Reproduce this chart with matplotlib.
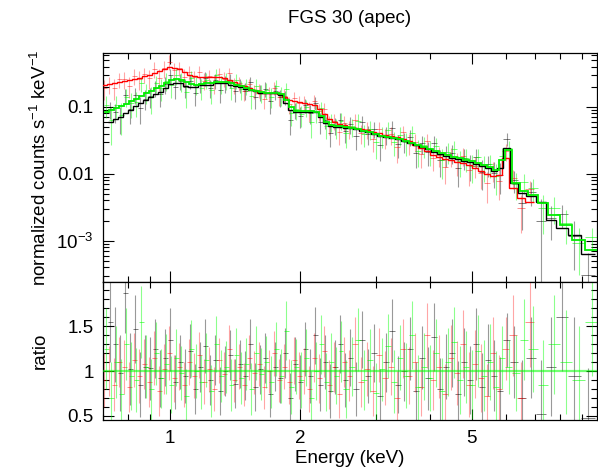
import matplotlib
matplotlib.use("Agg")
import matplotlib.pyplot as plt
from matplotlib.ticker import FixedLocator, FixedFormatter, NullFormatter, LogLocator, MultipleLocator
import numpy as np

plt.rcParams["font.family"] = ["Liberation Sans", "DejaVu Sans"]
plt.rcParams["mathtext.fontset"] = "custom"
plt.rcParams["mathtext.rm"] = "Liberation Sans"
plt.rcParams["mathtext.default"] = "regular"

title = "FGS 30 (apec)"

# black set: bin centres (keV), model (counts/s/keV), data/model ratio, ratio error
black_energy = [0.726, 0.746, 0.767, 0.787, 0.809, 0.830, 0.853, 0.876, 0.900, 0.924,
                0.948, 0.974, 1.000, 1.027, 1.055, 1.083, 1.113, 1.143, 1.174, 1.205,
                1.238, 1.271, 1.306, 1.341, 1.377, 1.414, 1.452, 1.492, 1.532, 1.573,
                1.616, 1.660, 1.704, 1.750, 1.798, 1.846, 1.896, 1.947, 2.000, 2.054,
                2.109, 2.166, 2.225, 2.285, 2.346, 2.410, 2.475, 2.542, 2.610,
                2.695, 2.783, 2.873, 2.967, 3.063, 3.163, 3.265, 3.371, 3.481, 3.594,
                3.711, 3.832, 3.956, 4.085, 4.217, 4.354, 4.496, 4.642, 4.793, 4.949,
                5.110, 5.276, 5.447, 5.624, 5.807,
                6.027, 6.256, 6.528, 6.848, 7.224, 7.619, 8.082, 8.614, 9.281]
black_model = [0.0597, 0.0650, 0.0709, 0.080, 0.0902, 0.102, 0.115, 0.127, 0.141, 0.154,
               0.167, 0.19, 0.22, 0.228, 0.224, 0.206, 0.199, 0.199, 0.21, 0.213,
               0.216, 0.224, 0.228, 0.224, 0.213, 0.203, 0.196, 0.185, 0.179, 0.17,
               0.162, 0.162, 0.162, 0.162, 0.151, 0.115, 0.0902, 0.0842, 0.0842, 0.0842,
               0.0842, 0.083, 0.0709, 0.0577, 0.052, 0.0503, 0.0494, 0.0486, 0.0477,
               0.0461, 0.0438, 0.0416, 0.0388, 0.0369, 0.035, 0.0338, 0.0327, 0.0305, 0.0285,
               0.0266, 0.0248, 0.0232, 0.021, 0.0199, 0.0186, 0.0173, 0.0164, 0.0156, 0.0148,
               0.0138, 0.0132, 0.0123, 0.011, 0.0123,
               0.0244, 0.0073, 0.0052, 0.0047, 0.0038, 0.00206, 0.00157, 0.00123, 0.00064]
black_ratio = [1.55, 1.30, 0.98, 1.87, 1.02, 1.47, 0.85, 1.05, 1.03, 1.25,
               0.92, 1.15, 1.35, 0.88, 1.10, 0.95, 1.22, 0.80, 1.05, 1.28,
               0.90, 1.12, 0.78, 1.00, 1.18, 0.86, 1.08, 0.95, 1.30, 0.82,
               1.02, 1.15, 0.75, 1.05, 0.92, 1.20, 0.70, 1.08, 0.88, 1.25,
               0.95, 1.40, 0.85, 1.10, 0.78, 1.05, 1.30, 0.90, 1.15,
               0.80, 1.35, 0.95, 1.20, 0.72, 1.10, 1.45, 0.85, 1.00, 1.25,
               0.78, 1.15, 0.92, 1.38, 0.80, 1.05, 1.20, 0.75, 1.10, 0.90,
               1.30, 0.82, 1.12, 0.95, 0.78,
               1.35, 1.10, 0.70, 1.15, 0.52, 1.05, 1.60, 0.95, 0.48]
black_err = [0.45, 0.42, 0.42, 0.45, 0.40, 0.38, 0.36, 0.35, 0.35, 0.33,
             0.32, 0.32, 0.35, 0.30, 0.30, 0.30, 0.30, 0.28, 0.28, 0.30,
             0.28, 0.28, 0.27, 0.28, 0.28, 0.27, 0.27, 0.27, 0.28, 0.27,
             0.27, 0.28, 0.26, 0.27, 0.27, 0.28, 0.28, 0.30, 0.30, 0.30,
             0.30, 0.32, 0.30, 0.30, 0.30, 0.30, 0.32, 0.30, 0.32,
             0.30, 0.32, 0.30, 0.32, 0.30, 0.33, 0.35, 0.32, 0.33, 0.35,
             0.32, 0.35, 0.35, 0.38, 0.35, 0.36, 0.38, 0.36, 0.38, 0.38,
             0.40, 0.38, 0.40, 0.40, 0.38,
             0.30, 0.40, 0.42, 0.45, 0.60, 0.55, 0.60, 0.65, 0.55]

# red set
red_energy = [0.7035, 0.7225, 0.742, 0.762, 0.783, 0.804, 0.826, 0.848, 0.871, 0.894,
              0.918, 0.943, 0.969, 0.995, 1.022, 1.049, 1.078, 1.107, 1.137, 1.167,
              1.199, 1.231, 1.264, 1.299, 1.334, 1.370, 1.407, 1.445, 1.484, 1.524,
              1.565, 1.607, 1.651, 1.695, 1.741, 1.788, 1.836, 1.886, 1.937, 1.989,
              2.043, 2.098, 2.154, 2.213, 2.272, 2.334, 2.397, 2.461, 2.528, 2.596,
              2.681, 2.768, 2.858, 2.951, 3.047, 3.146, 3.248, 3.354, 3.463, 3.575,
              3.691, 3.811, 3.935, 4.063, 4.195, 4.331, 4.472, 4.617, 4.767, 4.922,
              5.082, 5.247, 5.418, 5.594, 5.776,
              5.995, 6.223, 6.494, 6.813]
red_model = [0.213, 0.22, 0.228, 0.236, 0.245, 0.253, 0.262, 0.271, 0.285, 0.305,
             0.322, 0.345, 0.370, 0.395, 0.383, 0.364, 0.333, 0.305, 0.290, 0.281,
             0.281, 0.281, 0.281, 0.281, 0.271, 0.253, 0.236, 0.216, 0.203, 0.189,
             0.176, 0.164, 0.162, 0.162, 0.16, 0.154, 0.141, 0.125, 0.121, 0.119,
             0.115, 0.111, 0.107, 0.0934, 0.0773, 0.0662, 0.0587, 0.0557, 0.0529, 0.0503,
             0.0486, 0.0469, 0.0454, 0.0424, 0.0402, 0.0382, 0.0369, 0.0357, 0.0333, 0.0305,
             0.0271, 0.0244, 0.022, 0.0192, 0.018, 0.0168, 0.016, 0.0151, 0.0143, 0.0136,
             0.0123, 0.011, 0.010, 0.0093, 0.0097,
             0.0173, 0.0062, 0.0044, 0.0038]
red_ratio = [0.90, 1.00, 0.85, 1.10, 1.05, 0.82, 1.12, 0.95, 1.08, 0.88,
             1.15, 0.78, 1.02, 1.20, 0.92, 1.05, 0.85, 1.10, 0.95, 1.18,
             0.88, 1.02, 0.80, 1.12, 0.97, 1.25, 0.90, 1.05, 0.85, 1.15,
             0.98, 1.08, 0.82, 1.00, 1.20, 0.90, 1.05, 0.88, 1.12, 0.95,
             1.00, 0.80, 1.15, 0.92, 1.22, 0.85, 1.05, 0.75, 1.10, 0.95,
             1.30, 0.88, 1.02, 0.78, 1.18, 0.92, 1.05, 0.70, 1.25, 0.95,
             1.10, 0.82, 1.40, 0.90, 1.05, 0.75, 1.15, 0.98, 1.30, 0.85,
             1.08, 0.92, 0.72, 1.20, 0.80,
             1.25, 1.40, 0.70, 1.55]
red_err = [0.30, 0.28, 0.30, 0.28, 0.30, 0.28, 0.30, 0.30, 0.28, 0.28,
           0.30, 0.28, 0.28, 0.30, 0.26, 0.26, 0.25, 0.26, 0.25, 0.26,
           0.25, 0.25, 0.25, 0.25, 0.24, 0.26, 0.24, 0.25, 0.24, 0.25,
           0.24, 0.25, 0.24, 0.24, 0.25, 0.24, 0.25, 0.25, 0.26, 0.26,
           0.26, 0.26, 0.27, 0.27, 0.28, 0.27, 0.28, 0.27, 0.28, 0.28,
           0.30, 0.28, 0.30, 0.28, 0.30, 0.30, 0.32, 0.30, 0.33, 0.32,
           0.33, 0.32, 0.36, 0.33, 0.35, 0.33, 0.36, 0.36, 0.38, 0.36,
           0.38, 0.38, 0.36, 0.40, 0.38,
           0.35, 0.45, 0.40, 0.50]

# green set
green_energy = [0.711, 0.730, 0.750, 0.770, 0.791, 0.812, 0.834, 0.857, 0.880, 0.904,
                0.928, 0.953, 0.979, 1.005, 1.032, 1.060, 1.089, 1.118, 1.149, 1.180,
                1.211, 1.244, 1.278, 1.312, 1.348, 1.384, 1.421, 1.460, 1.499, 1.540,
                1.581, 1.624, 1.668, 1.713, 1.759, 1.807, 1.855, 1.906, 1.957, 2.010,
                2.064, 2.120, 2.177, 2.236, 2.296, 2.358, 2.422, 2.487, 2.554,
                2.638, 2.723, 2.812, 2.904, 2.998, 3.095, 3.196, 3.300, 3.408, 3.518,
                3.633, 3.751, 3.873, 3.999, 4.129, 4.263, 4.401, 4.544, 4.691, 4.844,
                5.001, 5.164, 5.331, 5.504, 5.683, 5.868,
                6.091, 6.324, 6.600, 6.922, 7.302, 7.743, 8.257, 8.847, 9.482]
green_model = [0.0842, 0.0902, 0.0966, 0.102, 0.109, 0.121, 0.132, 0.146, 0.159, 0.173,
               0.189, 0.206, 0.228, 0.253, 0.257, 0.249, 0.232, 0.22, 0.216, 0.22,
               0.224, 0.228, 0.232, 0.236, 0.236, 0.224, 0.213, 0.203, 0.192, 0.182,
               0.173, 0.167, 0.164, 0.162, 0.162, 0.156, 0.127, 0.1, 0.0871, 0.0857,
               0.0857, 0.0857, 0.0842, 0.0734, 0.0597, 0.0539, 0.052, 0.0511, 0.0503,
               0.0486, 0.0461, 0.0438, 0.0416, 0.0388, 0.0369, 0.0357, 0.0345, 0.0333, 0.0311,
               0.029, 0.0271, 0.0253, 0.0236, 0.0217, 0.0206, 0.0192, 0.018, 0.017, 0.0162,
               0.0154, 0.0146, 0.0136, 0.0127, 0.0115, 0.0162,
               0.0228, 0.0073, 0.0056, 0.0049, 0.0036, 0.0024, 0.0017, 0.00104, 0.00073]
green_ratio = [1.25, 0.70, 1.10, 0.75, 1.30, 0.95, 0.90, 1.55, 1.05, 0.80,
               1.20, 0.92, 1.08, 0.85, 1.15, 0.98, 0.72, 1.25, 1.00, 0.88,
               1.12, 0.78, 1.30, 0.95, 1.05, 0.85, 1.18, 0.92, 1.08, 0.80,
               1.20, 0.97, 1.10, 0.88, 1.25, 0.95, 1.45, 0.82, 1.05, 0.90,
               1.15, 0.70, 1.00, 1.30, 0.88, 1.10, 0.95, 1.22, 0.80,
               1.05, 1.35, 0.90, 1.12, 0.76, 1.02, 1.28, 0.88, 1.15, 0.95,
               1.40, 0.82, 1.05, 0.92, 1.20, 0.78, 1.10, 1.32, 0.90, 1.05,
               0.85, 1.22, 0.95, 1.10, 0.82, 1.15,
               1.05, 0.98, 1.35, 1.25, 0.85, 1.30, 1.10, 0.90, 1.55]
green_err = [0.45, 0.40, 0.40, 0.38, 0.40, 0.38, 0.36, 0.40, 0.35, 0.34,
             0.35, 0.33, 0.33, 0.32, 0.32, 0.30, 0.30, 0.32, 0.30, 0.30,
             0.30, 0.29, 0.31, 0.29, 0.29, 0.29, 0.30, 0.29, 0.29, 0.29,
             0.30, 0.29, 0.29, 0.29, 0.30, 0.30, 0.33, 0.30, 0.31, 0.31,
             0.32, 0.30, 0.32, 0.33, 0.32, 0.33, 0.32, 0.34, 0.32,
             0.33, 0.35, 0.33, 0.35, 0.33, 0.35, 0.36, 0.35, 0.36, 0.36,
             0.38, 0.36, 0.37, 0.37, 0.38, 0.37, 0.38, 0.40, 0.38, 0.40,
             0.38, 0.40, 0.40, 0.42, 0.40, 0.35,
             0.30, 0.42, 0.45, 0.48, 0.50, 0.55, 0.58, 0.60, 0.60]


def bin_edges(centres):
    # edges half way (in log E) between neighbouring bin centres
    lc = np.log10(centres)
    mid = (lc[:-1] + lc[1:]) / 2
    first = lc[0] - (lc[1] - lc[0]) / 2
    last = lc[-1] + (lc[-1] - lc[-2]) / 2
    return 10 ** np.concatenate([[first], mid, [last]])


def draw_data(ax_top, ax_bot, energy, model, ratio, err, color, alpha):
    e = np.array(energy)
    m = np.array(model)
    r = np.array(ratio)
    s = np.array(err)
    edges = bin_edges(e)
    xerr = [e - edges[:-1], edges[1:] - e]

    ax_top.errorbar(e, m * r, yerr=m * s, fmt="none", ecolor=color, alpha=alpha, elinewidth=0.8, zorder=2)
    ax_top.errorbar(e, m * r, xerr=xerr, fmt="none", ecolor=color, alpha=alpha + 0.1, elinewidth=0.7, zorder=2)
    ax_bot.errorbar(e, r, yerr=s, fmt="none", ecolor=color, alpha=alpha, elinewidth=0.8, zorder=2)
    ax_bot.errorbar(e, r, xerr=xerr, fmt="none", ecolor=color, alpha=alpha + 0.1, elinewidth=0.7, zorder=2)
    return edges


def main():
    fig = plt.figure(figsize=(5.98, 4.67), dpi=100)
    ax_top = fig.add_axes([0.1727, 0.3955, 0.8256, 0.4904])
    ax_bot = fig.add_axes([0.1727, 0.1006, 0.8256, 0.2949])

    be = draw_data(ax_top, ax_bot, black_energy, black_model, black_ratio, black_err, "black", 0.4)
    re = draw_data(ax_top, ax_bot, red_energy, red_model, red_ratio, red_err, "#ff0000", 0.35)
    ge = draw_data(ax_top, ax_bot, green_energy, green_model, green_ratio, green_err, "#00ff00", 0.45)

    ax_top.stairs(red_model, re, baseline=None, color="#ff0000", lw=1.0, zorder=4)
    ax_top.stairs(black_model, be, baseline=None, color="black", lw=1.0, zorder=4)
    ax_top.stairs(green_model, ge, baseline=None, color="#00ee00", lw=1.3, zorder=5)
    ax_bot.axhline(1.0, color="#00ff00", alpha=0.55, lw=1.6, zorder=4)

    for ax in (ax_top, ax_bot):
        ax.set_xscale("log")
        ax.set_xlim(0.7, 9.74)
        ax.xaxis.set_major_locator(FixedLocator([1, 2, 5]))
        ax.xaxis.set_major_formatter(FixedFormatter(["1", "2", "5"]))
        ax.xaxis.set_minor_locator(FixedLocator([0.7, 0.8, 0.9, 3, 4, 6, 7, 8, 9]))
        ax.xaxis.set_minor_formatter(NullFormatter())
        ax.tick_params(which="both", direction="in", top=True, right=True, labelsize=13.5, width=0.8)
        ax.tick_params(which="major", length=8, pad=7)
        ax.tick_params(which="minor", length=4)
        for sp in ax.spines.values():
            sp.set_linewidth(0.9)

    ax_top.set_yscale("log")
    ax_top.set_ylim(2.39e-4, 0.633)
    ax_top.yaxis.set_major_locator(FixedLocator([1e-3, 1e-2, 1e-1]))
    ax_top.yaxis.set_major_formatter(FixedFormatter(["$10^{-3}$", "0.01", "0.1"]))
    ax_top.yaxis.set_minor_locator(LogLocator(base=10, subs=np.arange(2, 10)))
    ax_top.yaxis.set_minor_formatter(NullFormatter())
    ax_top.tick_params(labelbottom=False)
    ax_top.set_ylabel("normalized counts s$^{-1}$ keV$^{-1}$", fontsize=13.5, va="center")
    ax_top.yaxis.set_label_coords(-0.1275, 0.5)

    ax_bot.set_ylim(0.455, 1.99)
    ax_bot.yaxis.set_major_locator(FixedLocator([0.5, 1, 1.5]))
    ax_bot.yaxis.set_major_formatter(FixedFormatter(["0.5", "1", "1.5"]))
    ax_bot.yaxis.set_minor_locator(MultipleLocator(0.1))
    ax_bot.set_ylabel("ratio", fontsize=13.5, va="center")
    ax_bot.yaxis.set_label_coords(-0.1275, 0.5)
    ax_bot.set_xlabel("Energy (keV)", fontsize=13.5, labelpad=2)

    fig.text(0.585, 0.951, title, ha="center", va="baseline", fontsize=13.5)

    fig.savefig("out.png", dpi=100)


main()
